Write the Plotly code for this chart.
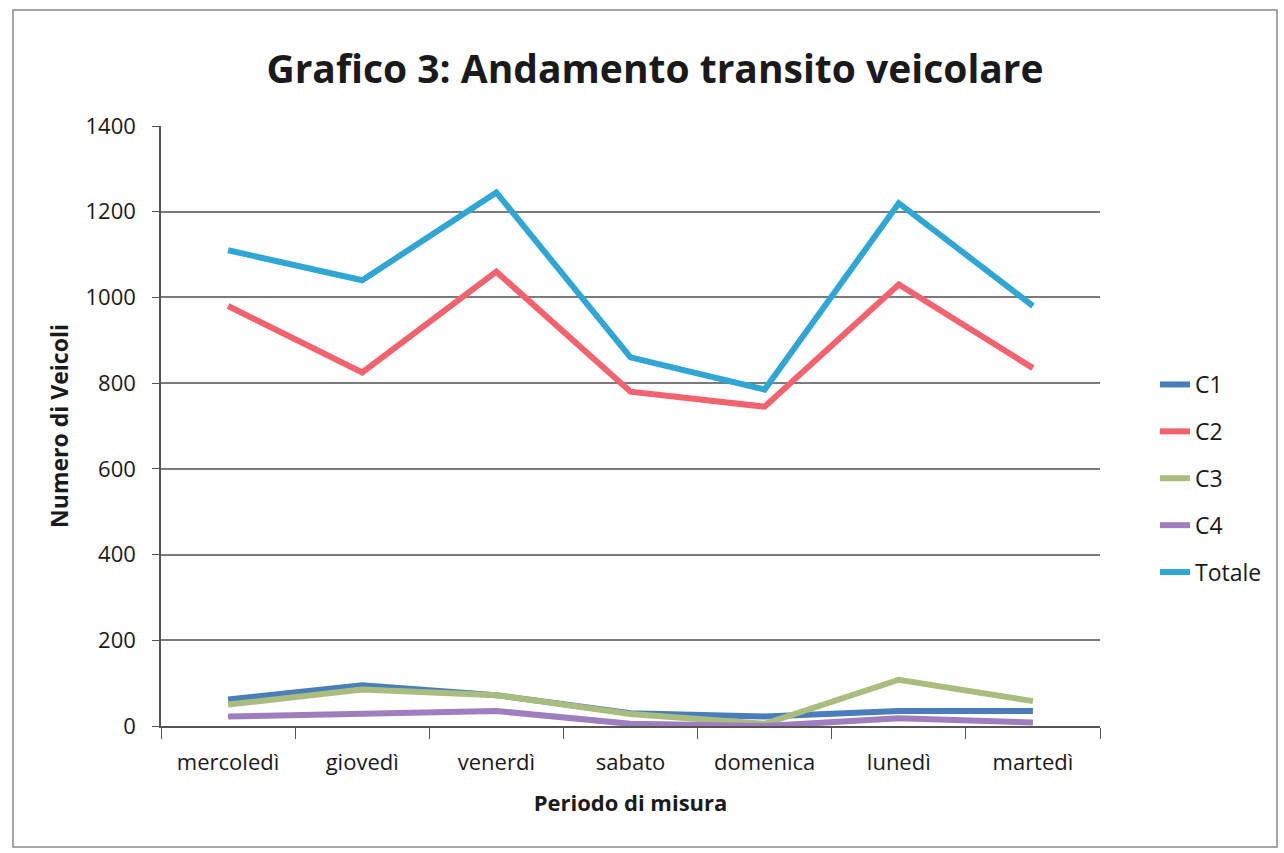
import plotly.graph_objects as go

giorni = ["mercoledì", "giovedì", "venerdì", "sabato", "domenica", "lunedì", "martedì"]
c1 = [62, 95, 72, 30, 22, 35, 35]
c2 = [980, 825, 1060, 780, 745, 1030, 835]
c3 = [50, 85, 72, 28, 5, 108, 58]
c4 = [22, 30, 35, 5, 0, 18, 8]
totale = [1110, 1040, 1245, 860, 785, 1220, 980]
y_ticks = [0, 200, 400, 600, 800, 1000, 1200, 1400]

serie = [
    ("C1", c1, "#4a7ebb"),
    ("C2", c2, "#f2636f"),
    ("C3", c3, "#a9bd7f"),
    ("C4", c4, "#9f7ec0"),
    ("Totale", totale, "#2fa6d4"),
]

FONT = "Open Sans"

fig = go.Figure()
for nome, vals, col in serie:
    fig.add_trace(go.Scatter(
        x=giorni, y=vals, name=nome, mode="lines", legendgroup=nome,
        line=dict(color=col, width=6),
    ))

L, R, T, B = 161, 184, 126, 127
W, H = 1284, 853
pw, ph = W - L - R, H - T - B

def px_x(p):
    return (p - L) / pw

def px_y(p):
    return (H - B - p) / ph

fig.update_layout(
    width=W, height=H,
    margin=dict(l=L, r=R, t=T, b=B, autoexpand=False),
    paper_bgcolor="white", plot_bgcolor="white",
    title=dict(text="<b>Grafico 3: Andamento transito veicolare</b>",
               xref="container", x=655 / W, xanchor="center",
               y=1 - 69 / H, yanchor="middle",
               font=dict(family=FONT, size=39, color="#1a1a1a")),
    font=dict(family=FONT, color="#1a1a1a"),
    xaxis=dict(
        type="category", range=[-0.5, 6.5], tickson="boundaries",
        ticks="outside", ticklen=11, tickcolor="#555", showline=True,
        linecolor="#555", linewidth=1.5, showgrid=False,
        tickfont=dict(size=22, color="#1a1a1a"), ticklabelstandoff=16,
        title=dict(text="<b>Periodo di misura</b>", font=dict(size=22), standoff=20),
    ),
    yaxis=dict(
        range=[0, 1400], tickvals=y_ticks, ticks="outside", ticklen=7,
        tickcolor="#555", showline=True, linecolor="#555", linewidth=1.5,
        showgrid=True, gridcolor="#7a7a7a", gridwidth=1.5, zeroline=False,
        tickfont=dict(size=22, color="#1a1a1a"), ticklabelstandoff=12,
        title=dict(text="<b>Numero di Veicoli</b>", font=dict(size=23), standoff=10),
    ),
    legend=dict(
        x=px_x(1155), xanchor="left", y=px_y(363), yanchor="top",
        font=dict(size=23, color="#1a1a1a"), tracegroupgap=14,
        itemwidth=30, bgcolor="rgba(0,0,0,0)",
    ),
    showlegend=True,
)

fig.add_shape(type="rect", xref="paper", yref="paper",
              x0=px_x(13), x1=px_x(1277), y0=px_y(847), y1=px_y(10),
              line=dict(color="#8a8a8a", width=1.5), layer="below")

fig.write_html("out.html", config={"displayModeBar": False},
               post_script="document.body.style.margin='0';document.body.style.overflow='hidden';")
